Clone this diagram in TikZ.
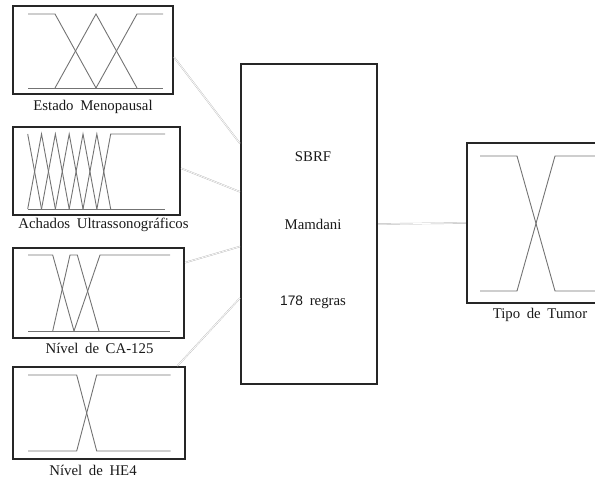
\documentclass[tikz,border=0pt]{standalone}
\usepackage{fontspec}
\setmainfont{Liberation Serif}[WordSpace=1.8]
\newfontfamily\digitfont{Liberation Sans}
\usetikzlibrary{positioning,calc}

\begin{document}
\begin{tikzpicture}[x=1pt, y=-1pt,
  node distance=4pt,
  frame/.style={draw=black!85, line width=2.1pt, inner sep=0pt},
  mf/.style={draw=black!55, line width=0.9pt},
  link/.style={draw=gray!55, line width=0.4pt, double=white, double distance=0.7pt},
  lbl/.style={inner sep=0pt, text=black!90, font=\fontsize{14.8}{17}\selectfont}
]
\useasboundingbox (0,0) rectangle (595,481);
\clip (0,0) rectangle (595,481);

\node[frame, minimum width=160pt, minimum height=88pt] (menop) at (93,50) {};
\node[frame, minimum width=167pt, minimum height=88pt] (usg) at (96.5,171) {};
\node[frame, minimum width=171pt, minimum height=90pt] (ca) at (98.5,293) {};
\node[frame, minimum width=172pt, minimum height=92pt] (he) at (99,413) {};
\node[frame, minimum width=136pt, minimum height=320pt] (fis) at (309,224) {};
\node[frame, minimum width=138pt, minimum height=160pt] (tumor) at (536,223) {};

\node[lbl, below=5pt of menop] (lmenop) {Estado Menopausal};
\node[lbl, below=2pt of usg, xshift=7pt] (lusg) {Achados Ultrassonográficos};
\node[lbl, below=4pt of ca, xshift=1pt] (lca) {Nível de CA-125};
\node[lbl, below=5pt of he, xshift=-6pt] (lhe) {Nível de HE4};
\node[lbl, below=4pt of tumor, xshift=4pt] (ltumor) {Tipo de Tumor};

\node[lbl] (sbrf) at (313,157) {SBRF};
\node[lbl] (mamdani) at (313,224) {Mamdani};
\node[lbl] (regras) at (313,302) {{\digitfont\fontsize{13.8}{16}\selectfont 178} regras};

% funcoes de pertinencia
\draw[mf] (28,14) -- (55,14) -- (96,88);
\draw[mf] (55,88) -- (96,14) -- (137,88);
\draw[mf] (96,88) -- (137,14) -- (163,14);
\draw[mf] (28,88) -- (163,88);

\draw[mf] (27.7,134) -- (41.5,209);
\foreach \k in {1,...,5}
  \draw[mf] ({27.7+13.83*(\k-1)},209) -- ({27.7+13.83*\k},134) -- ({27.7+13.83*(\k+1)},209);
\draw[mf] (96.9,209) -- (110.7,134) -- (165,134);
\draw[mf] (27.7,209) -- (165,209);

\draw[mf] (28,255) -- (52.7,255) -- (74,331);
\draw[mf] (52.7,331) -- (70,255) -- (77.3,255) -- (99,331);
\draw[mf] (74,331) -- (100,255) -- (170,255);
\draw[mf] (28,331) -- (170,331);

\draw[mf] (28,375) -- (76.7,375) -- (96.7,451) -- (170.7,451);
\draw[mf] (28,451) -- (76.7,451) -- (96.7,375) -- (170.7,375);

\draw[mf] (480,156) -- (517,156) -- (555,291) -- (600,291);
\draw[mf] (480,291) -- (517,291) -- (555,156) -- (600,156);

\draw[link] ($(menop.north east)!0.58!(menop.south east)$) -- ($(fis.north west)!0.25!(fis.south west)$);
\draw[link] ($(usg.north east)!0.47!(usg.south east)$) -- ($(fis.north west)!0.40!(fis.south west)$);
\draw[link] ($(ca.north east)!0.17!(ca.south east)$) -- ($(fis.north west)!0.57!(fis.south west)$);
\draw[link] ($(he.north west)!0.95!(he.north east)$) -- ($(fis.north west)!0.73!(fis.south west)$);
\draw[link] (fis.east) -- (tumor.west);
\end{tikzpicture}
\end{document}
